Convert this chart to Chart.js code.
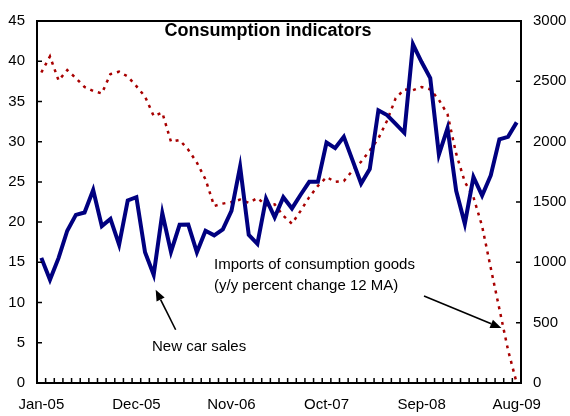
<!DOCTYPE html>
<html lang="en">
<head>
    <meta charset="UTF-8">
    <title>Consumption indicators</title>
    <script src="https://cdn.jsdelivr.net/npm/chart.js"></script>
    <style>
        body { margin: 0; background: #fff; }
        #wrap { width: 570px; height: 416px; }
    </style>
</head>
<body>
    <div id="wrap">
        <canvas id="chart" width="570" height="416"></canvas>
    </div>

    <script>
        // monthly, Jan-05 .. Aug-09
        const months = [
            'Jan-05','Feb-05','Mar-05','Apr-05','May-05','Jun-05','Jul-05','Aug-05','Sep-05','Oct-05','Nov-05','Dec-05',
            'Jan-06','Feb-06','Mar-06','Apr-06','May-06','Jun-06','Jul-06','Aug-06','Sep-06','Oct-06','Nov-06','Dec-06',
            'Jan-07','Feb-07','Mar-07','Apr-07','May-07','Jun-07','Jul-07','Aug-07','Sep-07','Oct-07','Nov-07','Dec-07',
            'Jan-08','Feb-08','Mar-08','Apr-08','May-08','Jun-08','Jul-08','Aug-08','Sep-08','Oct-08','Nov-08','Dec-08',
            'Jan-09','Feb-09','Mar-09','Apr-09','May-09','Jun-09','Jul-09','Aug-09'
        ];
        const shownLabels = ['Jan-05', 'Dec-05', 'Nov-06', 'Oct-07', 'Sep-08', 'Aug-09'];

        // right axis
        const carSales = [
            1037, 856, 1037, 1262, 1393, 1413, 1600, 1300, 1360, 1147, 1513, 1540,
            1083, 897, 1407, 1087, 1311, 1313, 1083, 1262, 1224, 1273, 1427, 1793,
            1227, 1153, 1527, 1373, 1540, 1447, 1560, 1667, 1667, 1993, 1947, 2040,
            1847, 1653, 1773, 2260, 2220, 2147, 2073, 2807, 2660, 2527, 1893, 2113,
            1593, 1320, 1707, 1553, 1720, 2020, 2040, 2160
        ];
        // left axis, y/y percent change 12 MA
        const imports = [
            38.6, 40.6, 37.6, 38.9, 37.9, 36.8, 36.3, 36.0, 38.4, 38.7, 38.1, 36.9,
            35.6, 33.2, 33.6, 30.0, 30.2, 29.0, 27.4, 25.3, 22.0, 22.3, 22.5, 22.8,
            22.4, 23.0, 22.1, 22.2, 20.8, 19.8, 21.4, 23.1, 24.5, 25.6, 25.0, 25.1,
            26.4, 27.5, 28.9, 30.4, 32.6, 35.4, 36.5, 36.4, 36.8, 36.5, 35.2, 33.4,
            28.5, 25.0, 23.1, 19.5, 14.3, 9.2, 4.1, 0
        ];

        const FONT = "'Liberation Sans', Arial, sans-serif";

        function arrow(ctx, x1, y1, x2, y2) {
            const a = Math.atan2(y2 - y1, x2 - x1);
            const len = 11, half = 4.5;
            const bx = x2 - len * Math.cos(a), by = y2 - len * Math.sin(a);
            ctx.beginPath();
            ctx.moveTo(x1, y1);
            ctx.lineTo(bx, by);
            ctx.stroke();
            ctx.beginPath();
            ctx.moveTo(x2, y2);
            ctx.lineTo(bx + half * Math.sin(a), by - half * Math.cos(a));
            ctx.lineTo(bx - half * Math.sin(a), by + half * Math.cos(a));
            ctx.closePath();
            ctx.fill();
        }

        // frame top line, inward tick marks, title and notes
        const overlay = {
            id: 'overlay',
            afterDraw(chart) {
                const ctx = chart.ctx;
                const area = chart.chartArea;
                const xs = chart.scales.x, yl = chart.scales.y, yr = chart.scales.y1;
                ctx.save();
                ctx.strokeStyle = '#000';
                ctx.lineWidth = 2;
                ctx.beginPath();
                ctx.moveTo(area.left, area.top);
                ctx.lineTo(area.right, area.top);
                ctx.stroke();

                ctx.lineWidth = 1.5;
                ctx.beginPath();
                yl.ticks.forEach(t => {
                    const y = yl.getPixelForValue(t.value);
                    ctx.moveTo(area.left, y);
                    ctx.lineTo(area.left + 5, y);
                });
                yr.ticks.forEach(t => {
                    const y = yr.getPixelForValue(t.value);
                    ctx.moveTo(area.right, y);
                    ctx.lineTo(area.right - 5, y);
                });
                const step = xs.getPixelForValue(1) - xs.getPixelForValue(0);
                for (let i = 0; i <= months.length; i++) {
                    const x = xs.getPixelForValue(i) - step / 2;
                    ctx.moveTo(x, area.bottom);
                    ctx.lineTo(x, area.bottom - 5);
                }
                ctx.stroke();

                ctx.fillStyle = '#000';
                ctx.font = 'bold 18px ' + FONT;
                ctx.textAlign = 'center';
                ctx.textBaseline = 'middle';
                ctx.fillText('Consumption indicators', 268, 31);

                ctx.font = '15px ' + FONT;
                ctx.textAlign = 'left';
                ctx.fillText('New car sales', 152, 347);
                ctx.fillText('Imports of consumption goods', 214, 265);
                ctx.fillText('(y/y percent change 12 MA)', 214, 286);

                ctx.lineWidth = 1.6;
                const tx1 = xs.getPixelForValue(13) + 2;
                const ty1 = yr.getPixelForValue(carSales[13]) + 15;
                arrow(ctx, tx1 + 20, ty1 + 40, tx1, ty1);
                const tx2 = xs.getPixelForValue(53) + 2;
                const ty2 = yl.getPixelForValue(imports[53]) + 19;
                arrow(ctx, 424, 296, tx2, ty2);
                ctx.restore();
            }
        };

        const ctx = document.getElementById('chart').getContext('2d');
        new Chart(ctx, {
            type: 'line',
            data: {
                labels: months,
                datasets: [{
                    label: 'New car sales',
                    data: carSales,
                    yAxisID: 'y1',
                    borderColor: '#000080',
                    borderWidth: 4,
                    pointRadius: 0,
                    tension: 0,
                    fill: false
                }, {
                    label: 'Imports of consumption goods (y/y percent change 12 MA)',
                    data: imports,
                    yAxisID: 'y',
                    borderColor: '#a80000',
                    borderWidth: 2.5,
                    borderDash: [3, 5],
                    pointRadius: 0,
                    tension: 0,
                    fill: false
                }]
            },
            options: {
                responsive: false,
                animation: false,
                layout: { padding: { top: 13, left: 0, right: 0, bottom: 0 } },
                plugins: {
                    legend: { display: false },
                    tooltip: { enabled: false }
                },
                scales: {
                    x: {
                        type: 'category',
                        offset: true,
                        grid: { display: false, drawTicks: false },
                        border: { display: true, color: '#000', width: 2 },
                        ticks: {
                            autoSkip: false,
                            maxRotation: 0,
                            padding: 13,
                            color: '#000',
                            font: { family: FONT, size: 15 },
                            callback: function(val, i) {
                                const m = months[i];
                                return shownLabels.includes(m) ? m : '';
                            }
                        },
                        afterFit: s => { s.height = 33; }
                    },
                    y: {
                        position: 'left',
                        min: 0,
                        max: 45,
                        grid: { display: false, drawTicks: false },
                        border: { display: true, color: '#000', width: 2 },
                        ticks: {
                            stepSize: 5,
                            padding: 12,
                            color: '#000',
                            font: { family: FONT, size: 15 }
                        },
                        afterFit: s => { s.width = 37; }
                    },
                    y1: {
                        position: 'right',
                        min: 0,
                        max: 3000,
                        grid: { display: false, drawTicks: false },
                        border: { display: true, color: '#000', width: 2 },
                        ticks: {
                            stepSize: 500,
                            padding: 12,
                            color: '#000',
                            font: { family: FONT, size: 15 },
                            callback: v => String(v)
                        },
                        afterFit: s => { s.width = 49; }
                    }
                }
            },
            plugins: [overlay]
        });
    </script>
</body>
</html>
